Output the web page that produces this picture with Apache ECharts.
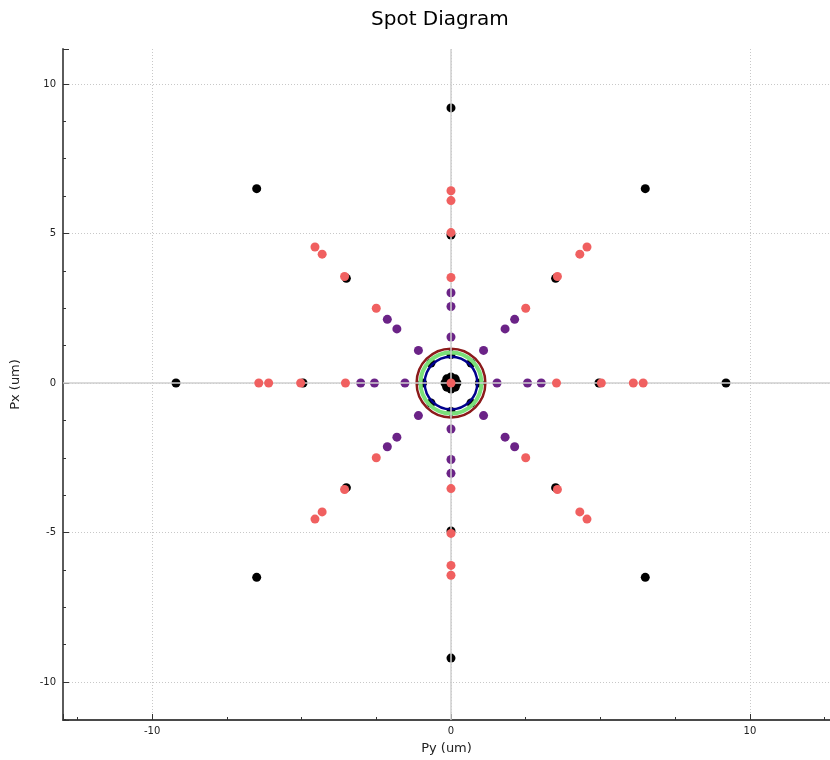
<!DOCTYPE html>
<html>
<head>
<meta charset="utf-8">
<script src="https://cdn.jsdelivr.net/npm/echarts@6/dist/echarts.min.js"></script>
<style>
  html, body { margin: 0; padding: 0; background: #fff; }
  #chart { width: 830px; height: 760px; }
</style>
</head>
<body>
<div id="chart"></div>
<script>
// spot positions in um, [Py, Px]
const blackPts = [
  [0, 9.2], [6.5, 6.5], [9.2, 0], [6.5, -6.5], [0, -9.2], [-6.5, -6.5], [-9.2, 0], [-6.5, 6.5],
  [0, 4.95], [3.5, 3.5], [4.95, 0], [3.5, -3.5], [0, -4.95], [-3.5, -3.5], [-4.95, 0], [-3.5, 3.5],
  [0, 0.95], [0.67, 0.67], [0.95, 0], [0.67, -0.67], [0, -0.95], [-0.67, -0.67], [-0.95, 0], [-0.67, 0.67],
  [0, 0.2], [0.14, 0.14], [0.2, 0], [0.14, -0.14], [0, -0.2], [-0.14, -0.14], [-0.2, 0], [-0.14, 0.14]
]
const purplePts = [
  [0, 1.54], [1.09, 1.09], [1.54, 0], [1.09, -1.09], [0, -1.54], [-1.09, -1.09], [-1.54, 0], [-1.09, 1.09],
  [0, 2.56], [1.81, 1.81], [2.56, 0], [1.81, -1.81], [0, -2.56], [-1.81, -1.81], [-2.56, 0], [-1.81, 1.81],
  [0, 3.02], [2.13, 2.13], [3.02, 0], [2.13, -2.13], [0, -3.02], [-2.13, -2.13], [-3.02, 0], [-2.13, 2.13]
]
const redPts = [
  [0, 0],
  [0, 3.53], [2.5, 2.5], [3.53, 0], [2.5, -2.5], [0, -3.53], [-2.5, -2.5], [-3.53, 0], [-2.5, 2.5],
  [0, 5.03], [3.56, 3.56], [5.03, 0], [3.56, -3.56], [0, -5.03], [-3.56, -3.56], [-5.03, 0], [-3.56, 3.56],
  [0, 6.1], [4.31, 4.31], [6.1, 0], [4.31, -4.31], [0, -6.1], [-4.31, -4.31], [-6.1, 0], [-4.31, 4.31],
  [0, 6.43], [4.55, 4.55], [6.43, 0], [4.55, -4.55], [0, -6.43], [-4.55, -4.55], [-6.43, 0], [-4.55, 4.55]
]
// reference circles (radius in um): blue, green, dark red
const circleRadii = [0.88, 1.02, 1.15]

const circleColors = ['#00008c', '#7ae07a', '#8b1a1a']
const circleWidths = [2.5, 4, 2.5]
const font = 'DejaVu Sans'

const chart = echarts.init(document.getElementById('chart'))

const axisCommon = {
  type: 'value',
  axisLine: { show: true, onZero: false, lineStyle: { color: '#4a4a4a', width: 1.8 } },
  axisTick: { show: true, inside: true, length: 6, lineStyle: { color: '#333' } },
  minorTick: { show: true, splitNumber: 4, length: 3, lineStyle: { color: '#333' } },
  axisLabel: { fontSize: 10, color: '#222', fontFamily: font, showMinLabel: false, showMaxLabel: false },
  splitLine: { show: true, showMinLine: false, showMaxLine: false, lineStyle: { color: '#c8c8c8', width: 1, type: [1, 2] } },
  nameLocation: 'middle',
  nameTextStyle: { fontSize: 13, color: '#222', fontFamily: font }
}

chart.setOption({
  animation: false,
  backgroundColor: '#fff',
  title: {
    text: 'Spot Diagram',
    left: 366, top: 5,
    textStyle: { fontSize: 20, fontWeight: 'normal', color: '#000', fontFamily: font }
  },
  grid: { left: 63, right: 0, top: 49, bottom: 39 },
  xAxis: Object.assign({}, axisCommon, {
    min: -12.98, max: 12.68, splitNumber: 3, minInterval: 10, maxInterval: 10,
    name: 'Py (um)', nameGap: 22,
    axisLabel: Object.assign({}, axisCommon.axisLabel, { margin: 6 })
  }),
  yAxis: Object.assign({}, axisCommon, {
    min: -11.27, max: 11.17, splitNumber: 5, minInterval: 5, maxInterval: 5,
    name: 'Px (um)', nameGap: 41,
    axisLabel: Object.assign({}, axisCommon.axisLabel, { margin: 7 })
  }),
  series: [
    {
      type: 'scatter', data: [], z: 1, silent: true,
      markLine: {
        silent: true, symbol: ['none', 'none'], label: { show: false },
        lineStyle: { color: '#cfcfcf', width: 1.5, type: 'solid' },
        data: [{ xAxis: 0 }, { yAxis: 0 }]
      }
    },
    {
      type: 'scatter', data: blackPts, symbolSize: 9, z: 2,
      itemStyle: { color: '#000', opacity: 1 }
    },
    {
      type: 'custom', z: 3, silent: true,
      data: circleRadii.map((r, i) => [r, i]),
      renderItem: (params, api) => {
        const c = api.coord([0, 0])
        const r = api.size([api.value(0), 0])[0]
        const i = api.value(1)
        return {
          type: 'circle',
          shape: { cx: c[0], cy: c[1], r: r },
          style: { fill: 'none', stroke: circleColors[i], lineWidth: circleWidths[i] }
        }
      }
    },
    {
      type: 'scatter', data: purplePts, symbolSize: 9, z: 4,
      itemStyle: { color: '#6b2387', opacity: 1 }
    },
    {
      type: 'scatter', data: redPts, symbolSize: 9, z: 5,
      itemStyle: { color: '#f06060', opacity: 1 }
    }
  ]
})
</script>
</body>
</html>
